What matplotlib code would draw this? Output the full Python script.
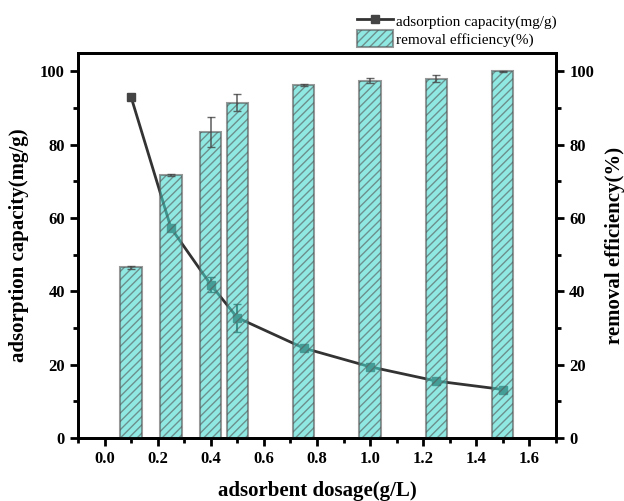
import numpy as np
import matplotlib.pyplot as plt
from matplotlib.lines import Line2D

plt.rcParams['font.family'] = ['Liberation Serif', 'DejaVu Serif']
plt.rcParams['hatch.color'] = '#2a6e6a'

# adsorbent dosage (g/L)
dosage = [0.1, 0.25, 0.4, 0.5, 0.75, 1.0, 1.25, 1.5]
# adsorption capacity (mg/g)
capacity = [93.0, 57.3, 41.8, 32.8, 24.5, 19.4, 15.5, 13.2]
capacity_err = [0, 0, 2.0, 3.8, 0, 0, 0, 0]
# removal efficiency (%)
removal = [46.5, 71.7, 83.5, 91.5, 96.3, 97.5, 98.0, 100.0]
removal_err = [0.3, 0.3, 4.0, 2.4, 0.2, 0.7, 1.0, 0.1]

fig = plt.figure(figsize=(6.24, 5.01), dpi=100)
ax = fig.add_axes([0.125, 0.126, 0.766, 0.768])
ax2 = ax.twinx()

line_col = '#333333'
ax.errorbar(dosage, capacity, yerr=capacity_err, color=line_col, lw=2,
            marker='s', ms=6, mfc='#444444', mec='#444444',
            ecolor=line_col, elinewidth=1.5, capsize=3, zorder=2)
ax.set_zorder(1)
ax.patch.set_visible(False)

# bars sit on top of the line, semi-transparent
ax2.set_zorder(2)
bars = ax2.bar(dosage, removal, width=0.08, color='#46d9d0', alpha=0.6,
               edgecolor='#555555', linewidth=1.5, hatch='////')
ax2.errorbar(dosage, removal, yerr=removal_err, fmt='none', ecolor='#444444',
             elinewidth=1.2, capsize=3, alpha=0.8)

ax.set_xlim(-0.085, 1.67)
ax.set_ylim(0, 105)
ax2.set_ylim(0, 105)
ax.set_xticks(np.arange(0, 1.61, 0.2))
ax.set_xticks(np.arange(-0.1, 1.71, 0.1), minor=True)
ax.set_yticks(np.arange(0, 101, 20))
ax.set_yticks(np.arange(0, 101, 10), minor=True)
ax2.set_yticks(np.arange(0, 101, 20))
ax2.set_yticks(np.arange(0, 101, 10), minor=True)

tick_font = dict(fontsize=12, fontweight='bold')
ax.set_xticklabels(['%.1f' % v for v in np.arange(0, 1.61, 0.2)], **tick_font)
ax.set_yticklabels([str(v) for v in range(0, 101, 20)], **tick_font)
ax2.set_yticklabels([str(v) for v in range(0, 101, 20)], **tick_font)

for a in (ax, ax2):
    for s in a.spines.values():
        s.set_linewidth(2)
    a.tick_params(which='major', direction='out', length=6, width=2)
    a.tick_params(which='minor', direction='out', length=3.5, width=2)

ax.set_xlabel('adsorbent dosage(g/L)', fontsize=15, fontweight='bold', labelpad=10)
ax.set_ylabel('adsorption capacity(mg/g)', fontsize=15, fontweight='bold', labelpad=8)
ax2.set_ylabel('removal efficiency(%)', fontsize=15, fontweight='bold', labelpad=8)

h_line = Line2D([], [], color=line_col, lw=2, marker='s', ms=6,
                mfc='#444444', mec='#444444')
fig.legend([h_line, bars], ['adsorption capacity(mg/g)', 'removal efficiency(%)'],
           loc='upper left', bbox_to_anchor=(0.557, 0.993),
           frameon=False, fontsize=11, handlelength=2.4, handleheight=1.3,
           handletextpad=0.2, labelspacing=0.05, borderaxespad=0.2)

fig.savefig('out.png', dpi=100)
